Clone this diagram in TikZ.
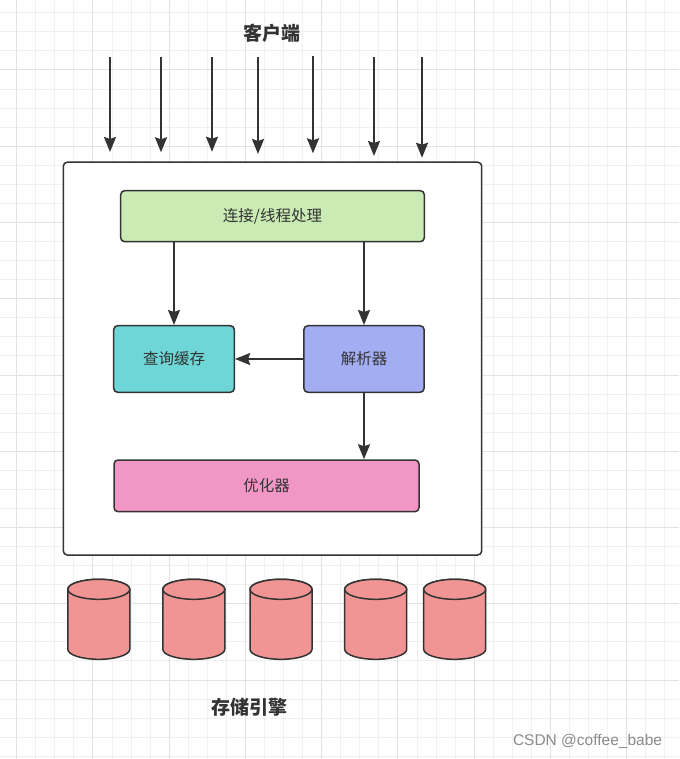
\documentclass[tikz,border=0pt]{standalone}
\usepackage{fontspec}
\newfontfamily\cjk{Noto Sans CJK SC}
\newfontfamily\wmfont{Liberation Sans}
\usetikzlibrary{arrows.meta}
\definecolor{ink}{HTML}{333333}
\definecolor{gridminor}{RGB}{240,240,240}
\definecolor{gridmajor}{RGB}{226,226,226}
\definecolor{greenfill}{HTML}{CBEBB4}
\definecolor{cyanfill}{HTML}{6ED6D6}
\definecolor{purplefill}{HTML}{A3ADF2}
\definecolor{pinkfill}{HTML}{F197C6}
\definecolor{cylfill}{HTML}{F19594}
\tikzset{
  minorline/.style={draw=gridminor, line width=1pt},
  majorline/.style={draw=gridmajor, line width=1pt},
  boxnode/.style={draw=ink, line width=1.5pt, rounded corners=4pt, inner sep=0pt,
    text=ink, font={\cjk\fontsize{15.5}{18}\selectfont}},
  arr/.style={draw=ink, line width=1.8pt, -{Stealth[length=15pt,width=12pt,inset=2pt]}},
  titletext/.style={text=ink, font={\cjk\bfseries\fontsize{19}{22}\selectfont}},
  cylstyle/.style={fill=cylfill, draw=ink, line width=1.5pt},
}
\begin{document}
\begin{tikzpicture}[x=1pt,y=-1pt]
\useasboundingbox (0,0) rectangle (679,759);
\clip (0,0) rectangle (679,759);
\fill[white] (0,0) rectangle (679,759);
% grid
\foreach \i in {0,...,35} {
  \draw[minorline] ({16.7+\i*19.0625},0) -- ({16.7+\i*19.0625},759);
}
\foreach \i in {-3,...,36} {
  \draw[minorline] (0,{70+\i*19.0625}) -- (679,{70+\i*19.0625});
}
\foreach \i in {0,...,8} {
  \draw[majorline] ({16.7+\i*76.25},0) -- ({16.7+\i*76.25},759);
}
\foreach \i in {0,...,8} {
  \draw[majorline] (0,{70+\i*76.25}) -- (679,{70+\i*76.25});
}
% title
\node[titletext] (client) at (272,33) {客户端};
% outer box
\node[draw=ink, fill=white, line width=1.5pt, rounded corners=4pt,
  minimum width=418.4pt, minimum height=392.8pt, inner sep=0pt] (server) at (272.5,358.6) {};
% incoming arrows
\foreach \n/\x/\t/\e in {1/110/57/152, 2/161/57/152.3, 3/212/57/151.7, 4/258/57/154,
  5/313/55.7/153.3, 6/374/57.3/156, 7/422/57.3/157.7} {
  \coordinate (s\n) at (\x,\t);
  \coordinate (e\n) at (\x,\e);
  \draw[arr] (s\n) -- (e\n);
}
% inner nodes
\node[boxnode, fill=greenfill, minimum width=303.6pt, minimum height=51pt] (conn) at (272.5,216.2) {连接/线程处理};
\node[boxnode, fill=cyanfill, minimum width=120.7pt, minimum height=66.6pt] (cache) at (174,359) {查询缓存};
\node[boxnode, fill=purplefill, minimum width=120.3pt, minimum height=66.6pt] (parse) at (364,359) {解析器};
\node[boxnode, fill=pinkfill, minimum width=305pt, minimum height=51.7pt] (opt) at (266.5,485.85) {优化器};
% connectors
\draw[arr] (conn.south -| cache.north) -- (cache.north);
\draw[arr] (conn.south -| parse.north) -- (parse.north);
\draw[arr] (parse.west) -- (cache.east);
\draw[arr] (parse.south) -- (opt.north -| parse.south);
% cylinders
\foreach \cx in {98.8,193.8,281,375.7,454.7} {
  \filldraw[cylstyle] ({\cx-31},589.3) -- ({\cx-31},649.3)
    arc[start angle=180, end angle=360, x radius=31pt, y radius=10pt]
    -- ({\cx+31},589.3)
    arc[start angle=0, end angle=180, x radius=31pt, y radius=10pt] -- cycle;
  \draw[cylstyle] (\cx,589.3) ellipse [x radius=31pt, y radius=10pt];
}
\node[titletext] (storage) at (249.7,707.5) {存储引擎};
% watermark
\node[text=black!45, font={\wmfont\fontsize{15.5}{18}\selectfont}] (wm) at (587.5,741.5) {CSDN @coffee\_babe};
\end{tikzpicture}
\end{document}
